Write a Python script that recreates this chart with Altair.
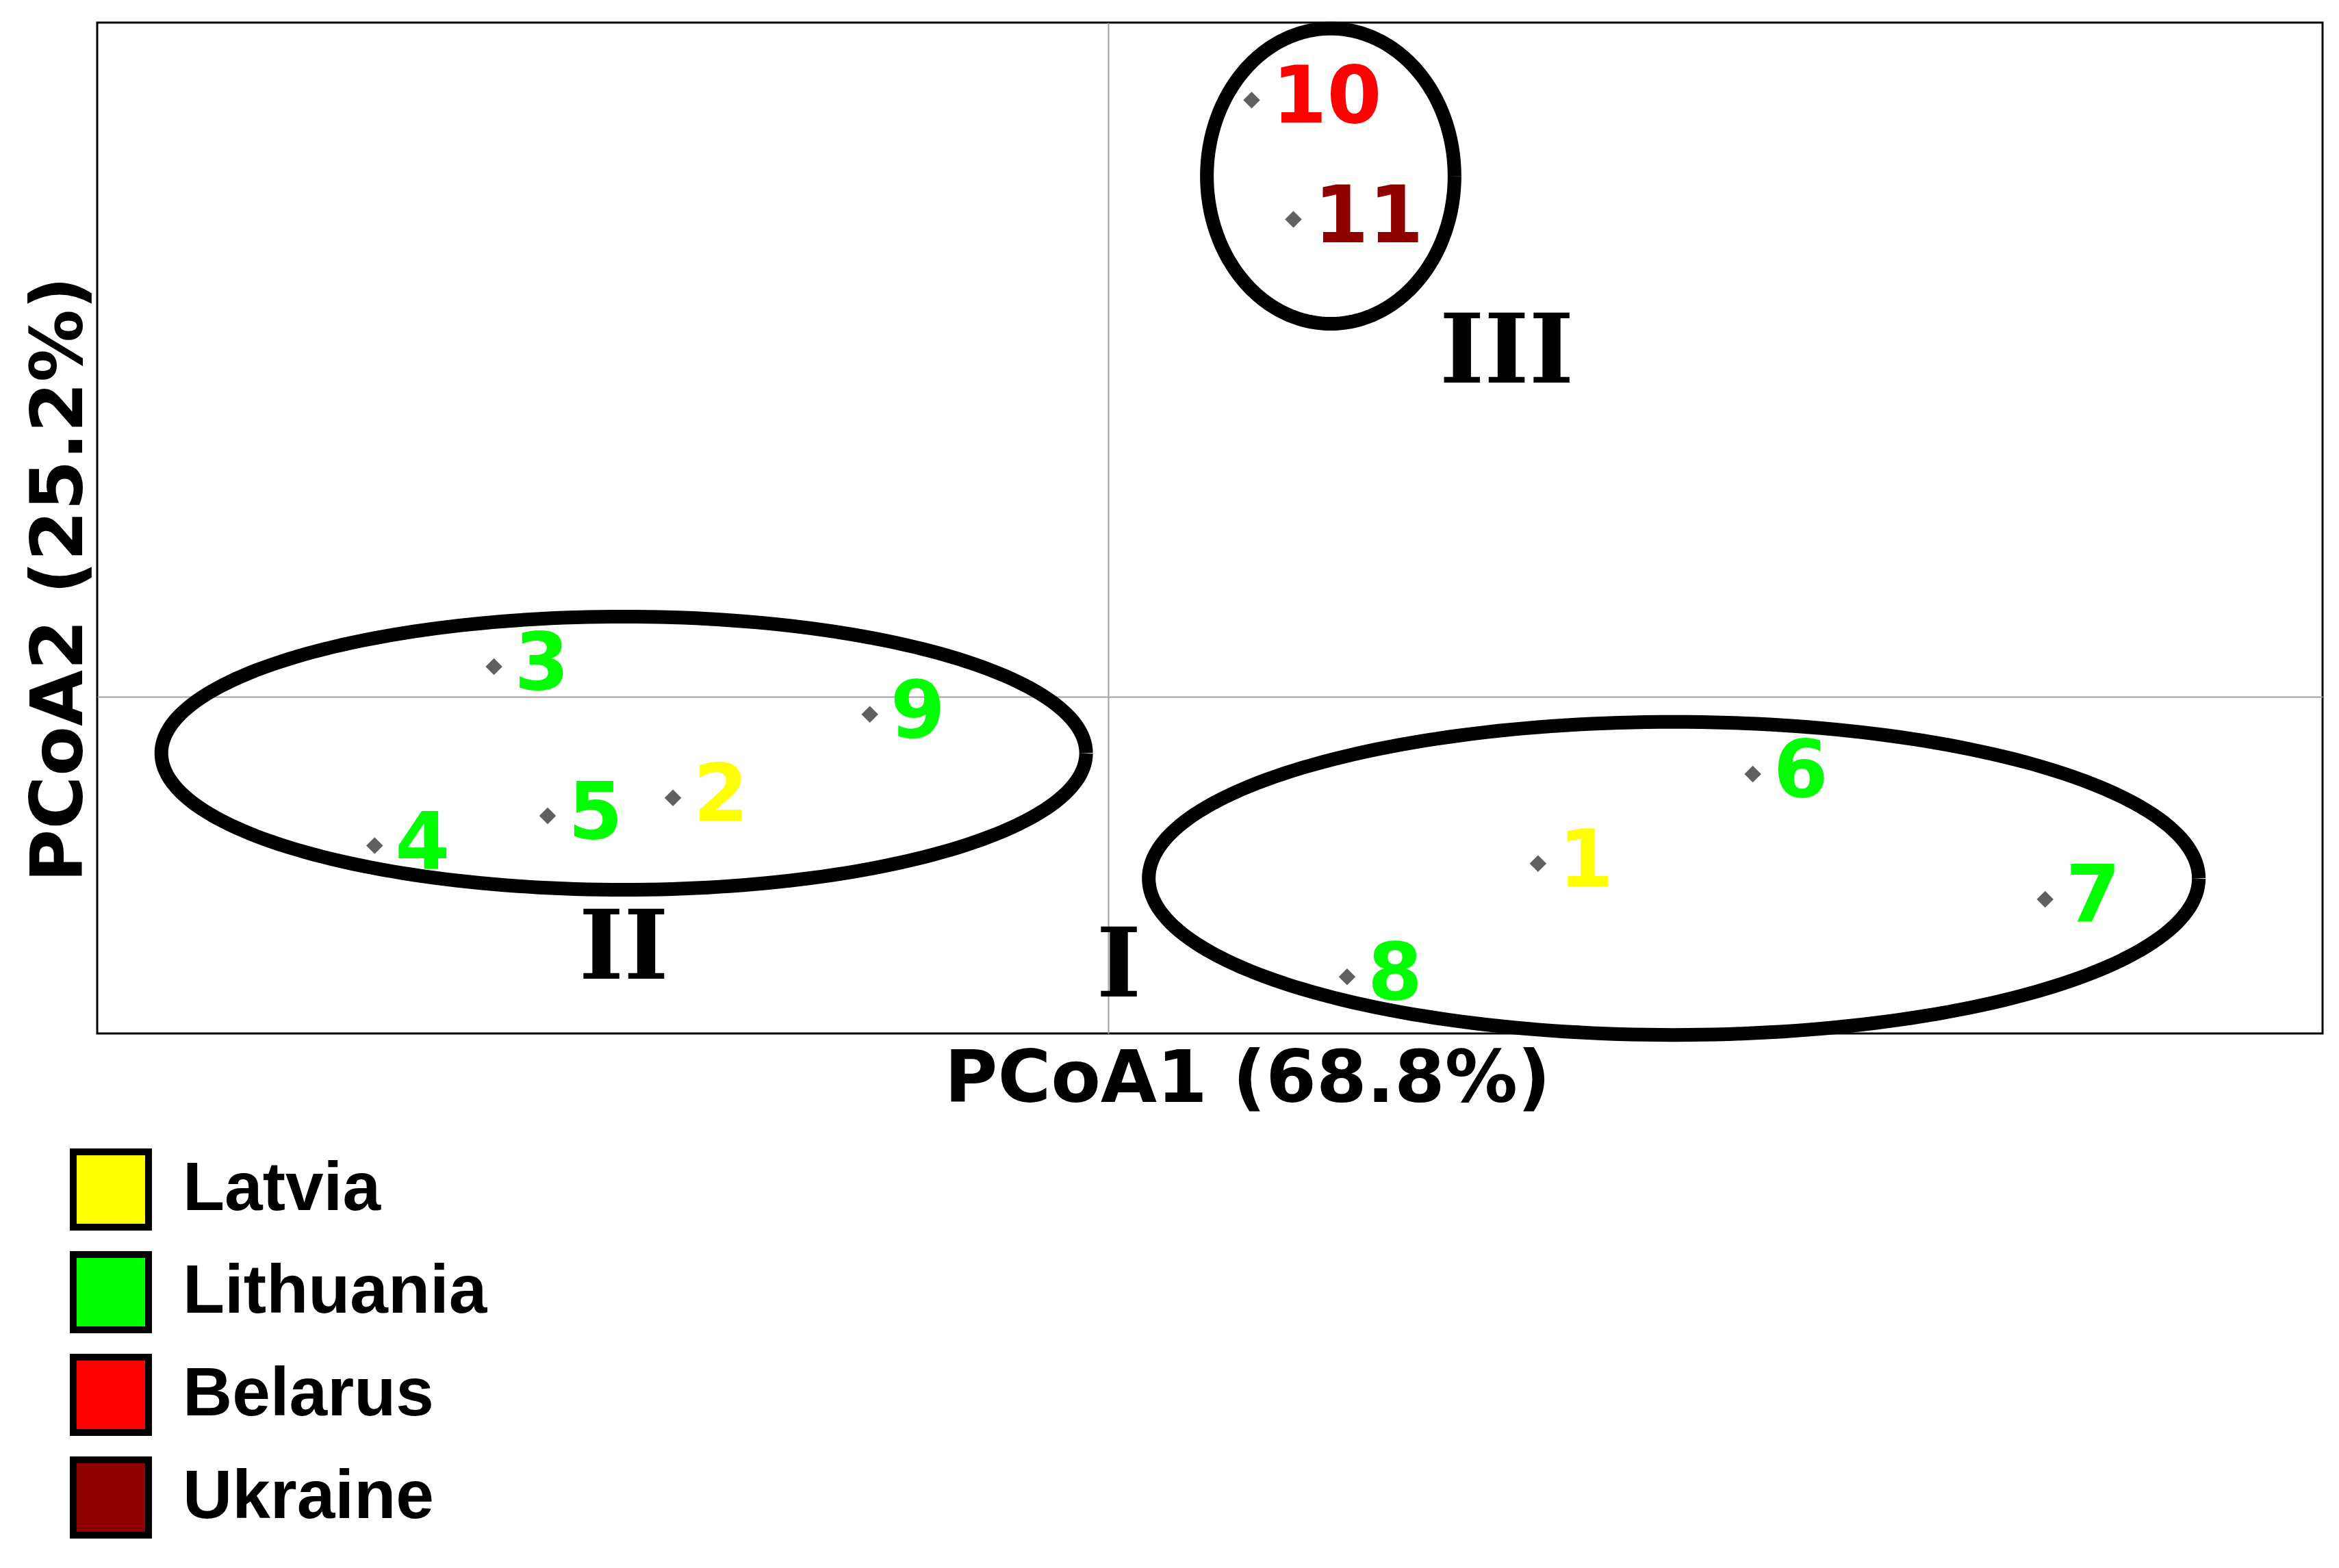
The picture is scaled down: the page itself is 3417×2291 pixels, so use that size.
import altair as alt
import numpy as np
import pandas as pd

# ---- data ----
ids = ["1", "2", "3", "4", "5", "6", "7", "8", "9", "10", "11"]
country = ["Latvia", "Latvia", "Lithuania", "Lithuania", "Lithuania", "Lithuania",
           "Lithuania", "Lithuania", "Lithuania", "Belarus", "Ukraine"]
pc1 = [0.72, -0.73, -1.03, -1.23, -0.94, 1.08, 1.57, 0.40, -0.40, 0.24, 0.31]
pc2 = [-0.28, -0.17, 0.05, -0.25, -0.20, -0.13, -0.34, -0.47, -0.03, 1.00, 0.80]

countries = ["Latvia", "Lithuania", "Belarus", "Ukraine"]
country_colors = ["#FFFF00", "#00FF00", "#FF0000", "#900000"]

group_names = ["I", "II", "III"]
group_cx = [0.9475, -0.8125, 0.3725]
group_cy = [-0.305, -0.095, 0.8725]
group_rx = [0.88, 0.775, 0.2075]
group_ry = [0.2625, 0.229, 0.2475]
group_label_x = [0.0175, -0.8125, 0.6675]
group_label_y = [-0.455, -0.425, 0.575]

x_domain = [-1.695, 2.035]
y_domain = [-0.565, 1.13]

# ---- tables ----
pts = pd.DataFrame({"id": ids, "country": country, "pc1": pc1, "pc2": pc2})

ell_rows = []
t = np.linspace(0, 2 * np.pi, 241)
for g, cx, cy, rx, ry in zip(group_names, group_cx, group_cy, group_rx, group_ry):
    for i, a in enumerate(t):
        ell_rows.append({"group": g, "k": i,
                         "pc1": cx + rx * np.cos(a), "pc2": cy + ry * np.sin(a)})
ell = pd.DataFrame(ell_rows)

glab = pd.DataFrame({"name": group_names, "pc1": group_label_x, "pc2": group_label_y})

W, H = 3251, 1477

xs = alt.Scale(domain=x_domain, nice=False, zero=False)
ys = alt.Scale(domain=y_domain, nice=False, zero=False)

x_axis = alt.Axis(values=[0], grid=True, gridColor="#a0a0a0", gridWidth=2,
                  labels=False, ticks=False, domain=False,
                  title="PCoA1 (68.8%)", titleFont="DejaVu Sans", titleFontSize=106,
                  titleFontWeight="bold", titleColor="black",
                  titleX=1680, titleY=67, titleBaseline="middle", titleAlign="center")
y_axis = alt.Axis(values=[0], grid=True, gridColor="#a0a0a0", gridWidth=2,
                  labels=False, ticks=False, domain=False,
                  title="PCoA2 (25.2%)", titleFont="DejaVu Sans", titleFontSize=106,
                  titleFontWeight="bold", titleColor="black", titleAngle=270,
                  titleX=-55, titleY=813, titleBaseline="middle", titleAlign="center")

base_pts = alt.Chart(pts)

markers = base_pts.mark_point(shape="diamond", filled=True, color="#606060",
                              size=600, opacity=1).encode(
    x=alt.X("pc1:Q", scale=xs, axis=x_axis),
    y=alt.Y("pc2:Q", scale=ys, axis=y_axis),
)

labels = base_pts.mark_text(align="left", baseline="middle", dx=30, dy=-2,
                            font="DejaVu Sans", fontWeight="bold", fontSize=115).encode(
    x=alt.X("pc1:Q", scale=xs),
    y=alt.Y("pc2:Q", scale=ys),
    text="id:N",
    color=alt.Color("country:N",
                    scale=alt.Scale(domain=countries, range=country_colors),
                    legend=alt.Legend(title=None, orient="none", legendX=-40, legendY=1645,
                                      symbolType="square", symbolSize=12100,
                                      symbolStrokeColor="black", symbolStrokeWidth=10,
                                      symbolOpacity=1, labelFont="Liberation Sans",
                                      labelFontWeight="bold", labelFontSize=100,
                                      labelColor="black", labelOffset=45,
                                      labelLimit=1000, rowPadding=0, padding=0)),
)

ellipses = alt.Chart(ell).mark_line(color="black", strokeWidth=20).encode(
    x=alt.X("pc1:Q", scale=xs),
    y=alt.Y("pc2:Q", scale=ys),
    detail="group:N",
    order="k:Q",
)

group_text = alt.Chart(glab).mark_text(align="center", baseline="middle",
                                       font="DejaVu Serif", fontWeight="bold",
                                       fontSize=140, color="black").encode(
    x=alt.X("pc1:Q", scale=xs),
    y=alt.Y("pc2:Q", scale=ys),
    text="name:N",
)

chart = alt.layer(markers, ellipses, group_text, labels).properties(
    width=W, height=H,
    background="white",
    autosize=alt.AutoSizeParams(type="none"),
    padding={"left": 134, "top": 25, "right": 10, "bottom": 740},
).configure_view(stroke="black", strokeWidth=3)

chart.save("out.html", embed_options={"renderer": "svg", "actions": False})
